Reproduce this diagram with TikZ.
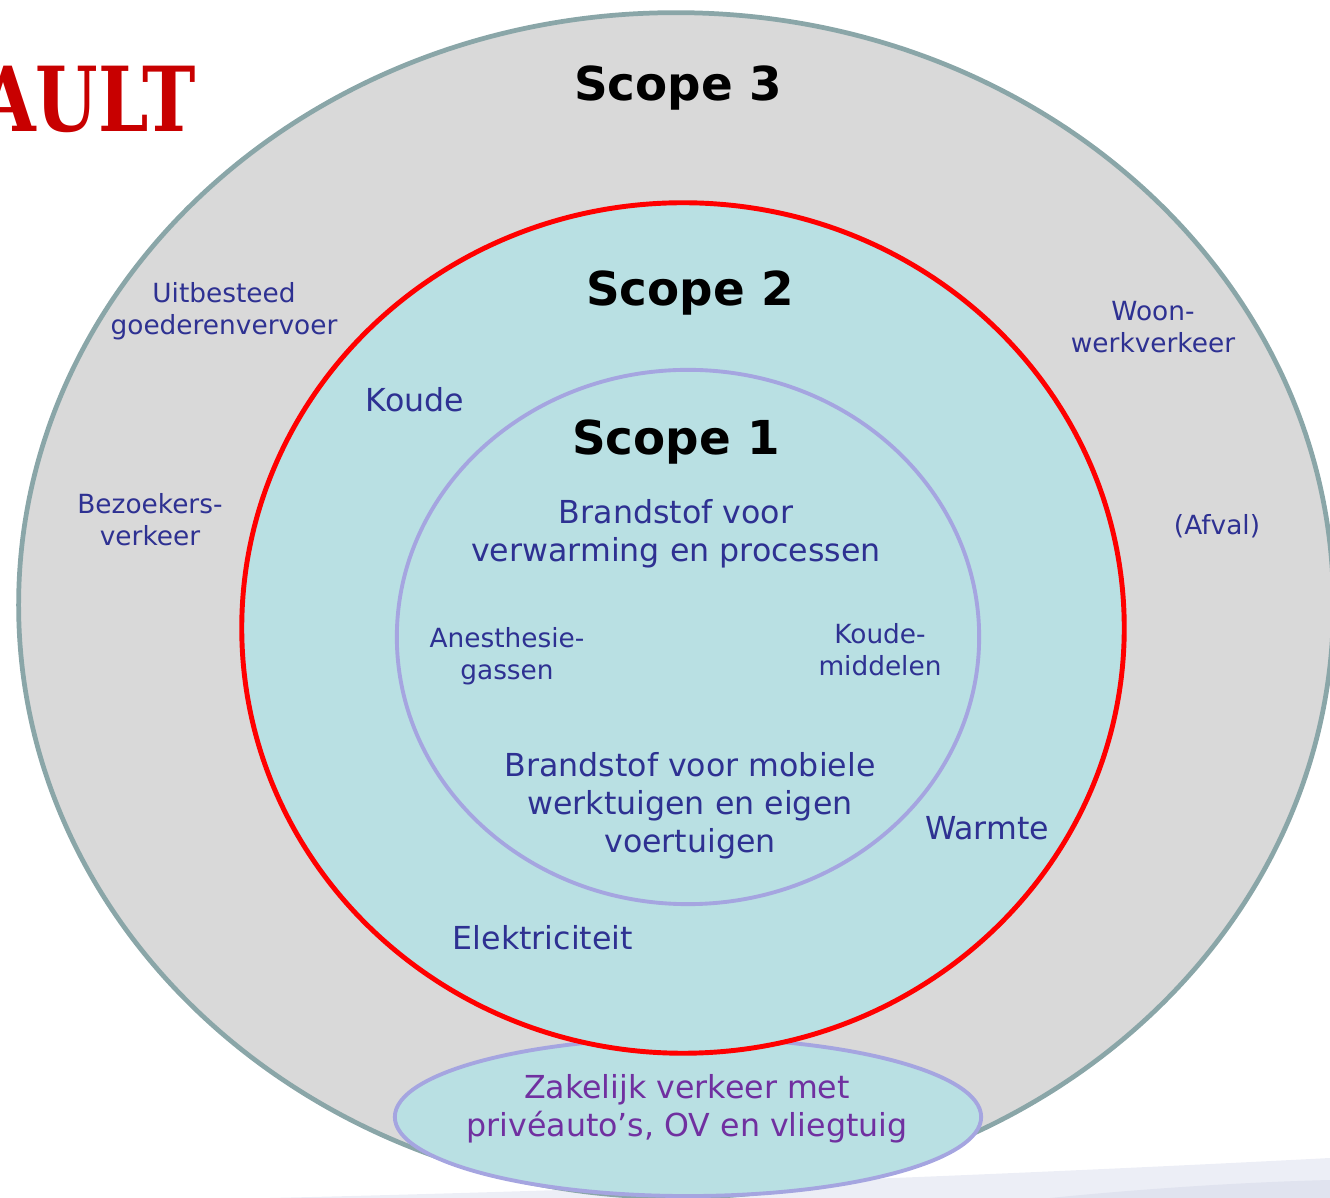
\documentclass[tikz,border=0pt]{standalone}
\usepackage{fontspec}
\setmainfont{DejaVu Sans}
\newfontfamily\slabfont{DejaVu Serif}
\usetikzlibrary{shapes.geometric}

\definecolor{ringgrey}{HTML}{D9D9D9}
\definecolor{ringedge}{HTML}{8AA6A8}
\definecolor{innerfill}{HTML}{B9E0E3}
\definecolor{lavender}{HTML}{A5A5E0}
\definecolor{itemblue}{HTML}{2E3192}
\definecolor{itempurple}{HTML}{7030A0}
\definecolor{titlered}{HTML}{C80000}
\definecolor{swooshlight}{HTML}{ECEEF6}
\definecolor{swooshdark}{HTML}{E0E3EF}

\tikzstyle{scopethree} = [ellipse, inner sep=0pt, minimum width=13.14cm, minimum height=11.84cm, draw=ringedge, line width=1.35pt, fill=ringgrey]
\tikzstyle{scopetwo} = [ellipse, inner sep=0pt, minimum width=8.82cm, minimum height=8.5cm, draw=red, line width=1.4pt, fill=innerfill]
\tikzstyle{scopeone} = [ellipse, inner sep=0pt, minimum width=5.82cm, minimum height=5.34cm, draw=lavender, line width=1.1pt, fill=innerfill]
\tikzstyle{travel} = [ellipse, inner sep=0pt, minimum width=5.86cm, minimum height=1.58cm, draw=lavender, line width=1.1pt, fill=innerfill]
\tikzstyle{scopetitle} = [font=\bfseries\fontsize{13.3}{16}\selectfont, anchor=base]
\tikzstyle{item} = [text=itemblue, align=center, font=\fontsize{9}{10.8}\selectfont]
\tikzstyle{smallitem} = [text=itemblue, align=center, font=\fontsize{7.5}{9.1}\selectfont]

\begin{document}
\begin{tikzpicture}[x=0.01cm, y=-0.01cm]
\useasboundingbox (0,0) rectangle (1330,1198);

% background band at the bottom
\fill[swooshlight] (270,1198) .. controls (700,1188) and (1100,1170) .. (1330,1158) -- (1330,1198) -- cycle;
\fill[swooshdark] (1050,1198) .. controls (1150,1188) and (1250,1182) .. (1330,1180) -- (1330,1198) -- cycle;

\node[anchor=base east, inner sep=0pt, text=titlered, font=\slabfont\bfseries\fontsize{25.5}{28}\selectfont] (brand) at (197,132) {\scalebox{0.8}[1]{AULT}};

% the three scopes
\node (s3) [scopethree] at (676,605) {};
\node (zak) [travel] at (688,1117) {};
\node (s2) [scopetwo] at (683,628) {};
\node (s1) [scopeone] at (688,637) {};

\node (t3) [scopetitle] at (678,101) {Scope 3};
\node (t2) [scopetitle] at (690,306) {Scope 2};
\node (t1) [scopetitle] at (676,455) {Scope 1};

% scope 3
\node (uitb) [smallitem] at (224,311) {Uitbesteed\\goederenvervoer};
\node (bez) [smallitem] at (150,520) {Bezoekers-\\verkeer};
\node (woon) [smallitem] at (1153,327) {Woon-\\werkverkeer};
\node (afval) [smallitem] at (1217,526) {(Afval)};
\node (zaktext) [item, text=itempurple] at (687,1109) {Zakelijk verkeer met\\privéauto’s, OV en vliegtuig};

% scope 2
\node (koude) [item] at (415,400) {Koude};
\node (warmte) [item] at (987,828) {Warmte};
\node (elek) [item] at (543,938) {Elektriciteit};

% scope 1
\node (brand1) [item] at (676,534) {Brandstof voor\\verwarming en processen};
\node (anest) [smallitem] at (507,656) {Anesthesie-\\gassen};
\node (kmid) [smallitem] at (880,650) {Koude-\\middelen};
\node (brand2) [item] at (690,806) {Brandstof voor mobiele\\werktuigen en eigen\\voertuigen};
\end{tikzpicture}
\end{document}
